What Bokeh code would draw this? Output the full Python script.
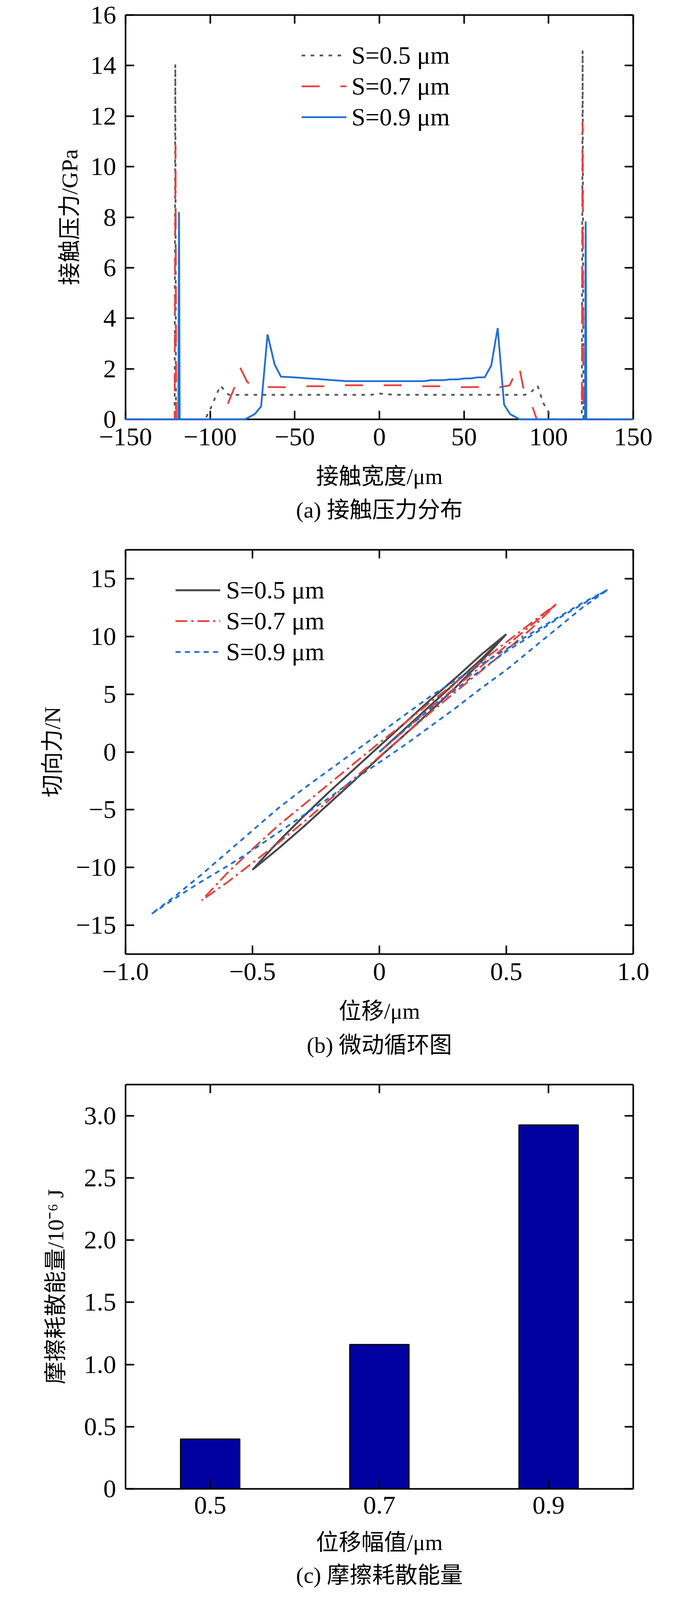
from bokeh.plotting import figure
from bokeh.models import (LinearAxis, Range1d, FixedTicker,
                          CustomJSTickFormatter, Legend, LegendItem, Title, ColumnDataSource)
from bokeh.layouts import column
from bokeh.embed import file_html
from bokeh.resources import INLINE

FONT = "Liberation Serif, Noto Sans CJK SC"

# ---------------- data: (a) contact pressure ----------------
xa_05 = [-150, -121.0, -120.6, -120.2, -103.0, -100.0, -94.0, -89.0, -80, -70, -60, -50, -40, -30,
         -20, -10, -5, 0, 5, 10, 20, 30, 40, 50, 60, 70, 80, 86, 89, 93.5, 96.8, 99.5, 102.5,
         119.6, 120.1, 120.6, 150]
ya_05 = [0, 0, 14.05, 0, 0, 0.39, 1.33, 0.97, 0.97, 0.97, 0.97, 0.97, 0.97, 0.97,
         0.97, 0.97, 0.97, 1.02, 0.99, 0.97, 0.97, 0.97, 0.97, 0.97, 0.97, 0.97, 0.97, 0.97, 1.04, 1.33,
         0.65, 0.33, 0.0, 0, 14.6, 0, 0]

xa_07 = [-150, -121.0, -120.5, -120.0, -95.5, -91.7, -89.8, -85.1, -82.3, -78.3, -74.0, -68.0, -56.0,
         -50.0, -45.0, -33.0, -23.5, -11.0, 0, 13.0, 19.5, 35.5, 42.0, 46.0, 58.7, 62.2, 69.0, 77.0,
         82.4, 85.0, 89.6, 93.0, 119.6, 120.1, 120.6, 150]
ya_07 = [0, 0, 10.85, 0, 0, 0.34, 0.58, 1.35, 2.05, 1.50, 1.24, 1.28, 1.27,
         1.31, 1.31, 1.31, 1.35, 1.35, 1.35, 1.35, 1.31, 1.31, 1.31, 1.27, 1.28, 1.24, 1.24, 1.35,
         2.15, 1.27, 0.66, 0, 0, 11.75, 0, 0]

xa_09 = [-150, -118.8, -118.4, -118.0, -79.4, -73.6, -69.9, -66.1, -61.9, -58.2, -50.5, -42.0, -37.4,
         -29.7, -19.6, 0, 26.4, 30.2, 37.9, 41.8, 46.4, 50.3, 54.1, 58.0, 62.2, 66.1, 69.9, 73.7, 77.2,
         82.9, 121.5, 121.9, 122.3, 150]
ya_09 = [0, 0, 8.2, 0, 0, 0.21, 0.51, 3.36, 2.17, 1.69, 1.66, 1.62, 1.60,
         1.56, 1.51, 1.51, 1.51, 1.55, 1.55, 1.58, 1.58, 1.62, 1.62, 1.66, 1.66, 2.13, 3.61, 0.58, 0.21,
         0, 0, 7.83, 0, 0]

xticks_a = [-150, -100, -50, 0, 50, 100, 150]
yticks_a = [0, 2, 4, 6, 8, 10, 12, 14, 16]

# ---------------- data: (b) fretting loops ----------------
xb_05 = [0, 0.1, 0.2, 0.3, 0.4, 0.5,
         0.4, 0.3, 0.2, 0.1, 0, -0.1, -0.2, -0.3, -0.4, -0.5,
         -0.4, -0.3, -0.2, -0.1, 0, 0.1, 0.2, 0.3, 0.4, 0.5]
yb_05 = [0, 2.0, 4.0, 6.0, 8.0, 10.2,
         8.4, 6.4, 4.5, 2.5, 0.5, -1.5, -3.5, -5.6, -7.8, -10.2,
         -8.4, -6.5, -4.5, -2.5, -0.45, 1.5, 3.5, 5.6, 7.8, 10.2]

xb_07 = [0, 0.1, 0.2, 0.3, 0.4, 0.5, 0.6, 0.7,
         0.6, 0.5, 0.4, 0.3, 0.2, 0.1, 0, -0.1, -0.2, -0.3, -0.4, -0.5, -0.6, -0.7,
         -0.6, -0.5, -0.4, -0.3, -0.2, -0.1, 0, 0.1, 0.2, 0.3, 0.4, 0.5, 0.6, 0.7]
yb_07 = [0, 1.9, 3.8, 5.6, 7.4, 9.2, 11.0, 12.85,
         11.2, 9.5, 7.8, 6.0, 4.3, 2.5, 0.8, -1.0, -2.8, -4.6, -6.4, -8.4, -10.5, -12.85,
         -11.3, -9.6, -7.9, -6.1, -4.2, -2.3, -0.4, 1.5, 3.4, 5.2, 7.0, 8.8, 10.7, 12.85]

xb_09 = [0, 0.1, 0.2, 0.3, 0.4, 0.5, 0.6, 0.7, 0.8, 0.9,
         0.8, 0.7, 0.6, 0.5, 0.4, 0.3, 0.2, 0.1, 0, -0.1, -0.2, -0.3, -0.4, -0.5, -0.6, -0.7, -0.8, -0.9,
         -0.8, -0.7, -0.6, -0.5, -0.4, -0.3, -0.2, -0.1, 0, 0.1, 0.2, 0.3, 0.4, 0.5, 0.6, 0.7, 0.8, 0.9]
yb_09 = [0, 1.9, 3.7, 5.4, 7.1, 8.7, 10.1, 11.5, 12.8, 14.05,
         12.9, 11.6, 10.3, 8.9, 7.6, 6.2, 4.8, 3.2, 1.6, 0.0, -1.6, -3.2, -4.9, -6.8, -8.7, -10.6, -12.4, -14.05,
         -12.6, -11.2, -9.9, -8.5, -7.0, -5.5, -4.0, -2.4, -0.9, 0.6, 2.2, 3.8, 5.5, 7.1, 8.9, 10.7, 12.5, 14.05]

xticks_b = [-1.0, -0.5, 0, 0.5, 1.0]
yticks_b = [-15, -10, -5, 0, 5, 10, 15]

# ---------------- data: (c) dissipated energy ----------------
amplitudes = [0.5, 0.7, 0.9]
energy = [0.40, 1.16, 2.925]
yticks_c = [0, 0.5, 1.0, 1.5, 2.0, 2.5, 3.0]

legend_labels = ["S=0.5 μm", "S=0.7 μm", "S=0.9 μm"]

GRAY_A, RED, BLUE = "#555555", "#E8413F", "#1F6ED4"
GRAY_B = "#474747"

FMT_INT = CustomJSTickFormatter(code="""
if (Math.abs(tick) < 1e-9) return '0';
var s = Math.abs(tick).toFixed(0);
return tick < 0 ? '\u2212' + s : s;""")
FMT_1 = CustomJSTickFormatter(code="""
if (Math.abs(tick) < 1e-9) return '0';
var s = Math.abs(tick).toFixed(1);
return tick < 0 ? '\u2212' + s : s;""")
FMT_EMPTY = CustomJSTickFormatter(code="return '';")

TICK_PX = "66px"
TITLE_PX = "58px"
FRAME_H = 1035


def style_axis(ax, labels=True, label_standoff=24):
    ax.axis_line_width = 4
    ax.axis_line_color = "black"
    ax.major_tick_in = 22
    ax.major_tick_out = 0
    ax.major_tick_line_width = 4
    ax.major_tick_line_color = "black"
    ax.minor_tick_in = 0
    ax.minor_tick_out = 0
    ax.major_label_text_font = FONT
    ax.major_label_text_font_size = TICK_PX
    ax.major_label_text_color = "black"
    ax.major_label_standoff = label_standoff
    ax.axis_label_text_font = FONT
    ax.axis_label_text_font_size = TITLE_PX
    ax.axis_label_text_font_style = "normal"
    ax.axis_label_text_color = "black"
    if not labels:
        ax.major_label_text_font_size = "1px"
        ax.major_label_standoff = 0
        ax.axis_label_standoff = 0


def caption(p, text, standoff):
    t = Title(text=text, align="center", text_font=FONT, text_font_size=TITLE_PX,
              text_font_style="normal", text_color="black", standoff=standoff)
    p.add_layout(t, "below")


def mirror_axes(p, xticks, yticks):
    top = LinearAxis(ticker=FixedTicker(ticks=xticks), formatter=FMT_EMPTY)
    style_axis(top, False)
    p.add_layout(top, "above")
    right = LinearAxis(ticker=FixedTicker(ticks=yticks), formatter=FMT_EMPTY)
    style_axis(right, False)
    p.add_layout(right, "right")


def base_fig(xr, yr, top, bottom, xlabel, ylabel, ylab_standoff, xticks, yticks, xfmt, yfmt,
             xlab_standoff=44, tick_standoff=23):
    p = figure(frame_width=1300, frame_height=FRAME_H, x_range=xr, y_range=yr,
               output_backend="svg", toolbar_location=None,
               min_border_left=321, min_border_right=135, min_border_top=top,
               min_border_bottom=bottom, x_axis_label=xlabel, y_axis_label=ylabel)
    p.xgrid.visible = False
    p.ygrid.visible = False
    p.outline_line_color = None
    style_axis(p.xaxis[0], True, tick_standoff)
    style_axis(p.yaxis[0], True, 24)
    p.xaxis[0].axis_label_standoff = xlab_standoff
    p.yaxis[0].axis_label_standoff = ylab_standoff
    p.xaxis[0].ticker = FixedTicker(ticks=xticks)
    p.xaxis[0].formatter = xfmt
    p.yaxis[0].ticker = FixedTicker(ticks=yticks)
    p.yaxis[0].formatter = yfmt
    mirror_axes(p, xticks, yticks)
    return p


def make_legend(p, renderers, loc, standoff):
    items = [LegendItem(label=l, renderers=[r]) for l, r in zip(legend_labels, renderers)]
    leg = Legend(items=items, location=loc, label_text_font=FONT, label_text_font_size="64px",
                 label_text_color="black", glyph_width=115, glyph_height=79, label_height=79,
                 label_standoff=standoff, spacing=0, padding=0, margin=0,
                 border_line_color=None, background_fill_alpha=0)
    p.add_layout(leg)


LEG_Y = FRAME_H - 64 - 3 * 79

# ---------------- (a) ----------------
FMT_A = CustomJSTickFormatter(code="return tick < 0 ? '\u2212' + Math.abs(tick) : tick.toString();")
pa = base_fig(Range1d(-150, 150), Range1d(0, 16), 38, 307, "接触宽度/μm", "接触压力/GPa", 18,
              xticks_a, yticks_a, FMT_A, FMT_INT)
ra1 = pa.line(xa_05, ya_05, line_color=GRAY_A, line_width=4.5, line_dash="9 14", level="overlay")
ra2 = pa.line(xa_07, ya_07, line_color=RED, line_width=4.5, line_dash="46 53", level="overlay")
ra3 = pa.line(xa_09, ya_09, line_color=BLUE, line_width=4.5, level="overlay")
make_legend(pa, [ra1, ra2, ra3], (451, LEG_Y), 13)
caption(pa, "(a) 接触压力分布", 33)

# ---------------- (b) ----------------
pb = base_fig(Range1d(-1, 1), Range1d(-17.5, 17.5), 27, 307, "位移/μm", "切向力/N", 24,
              xticks_b, yticks_b, FMT_1, FMT_INT)
rb1 = pb.line(xb_05, yb_05, line_color=GRAY_B, line_width=5)
rb2 = pb.line(xb_07, yb_07, line_color=RED, line_width=4.5, line_dash="30 10 6 10")
rb3 = pb.line(xb_09, yb_09, line_color=BLUE, line_width=4.5, line_dash="13 11")
make_legend(pb, [rb1, rb2, rb3], (128, LEG_Y), 15)
caption(pb, "(b) 微动循环图", 35)

# ---------------- (c) ----------------
pc = base_fig(Range1d(0.4, 1.0), Range1d(0, 3.25), 27, 260,
              "位移幅值/μm", "摩擦耗散能量/10⁻⁶ J", 37, amplitudes, yticks_c, FMT_1, FMT_1,
              xlab_standoff=38, tick_standoff=20)
src_c = ColumnDataSource(data=dict(amp=amplitudes, energy=energy))
pc.vbar(x="amp", top="energy", width=0.07, source=src_c, fill_color="#0000A0",
        line_color="black", line_width=3)
caption(pc, "(c) 摩擦耗散能量", 28)

layout = column(pa, pb, pc, spacing=0)
open("out.html", "w").write(file_html(layout, INLINE))
